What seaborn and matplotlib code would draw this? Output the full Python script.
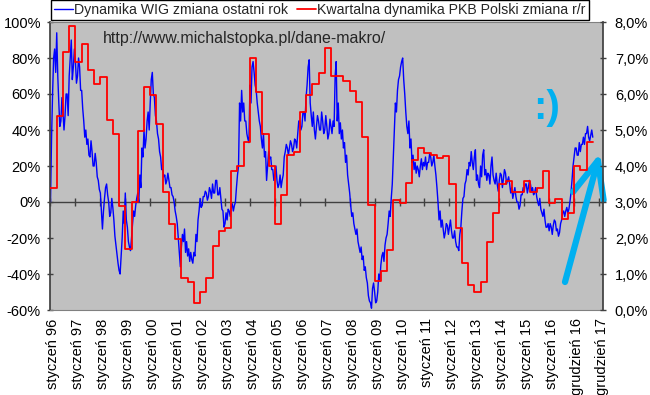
import numpy as np
import pandas as pd
import matplotlib
matplotlib.use("Agg")
import matplotlib.pyplot as plt
import matplotlib.transforms as mtransforms
import seaborn as sns
from matplotlib.ticker import FuncFormatter

sns.set_theme(style="white")
plt.rcParams['font.family'] = ['Liberation Sans', 'DejaVu Sans']

# WIG y/y change (%), twice a month, Jan 1996 - Oct 2017
wig_1996 = [0, 35, 60, 80, 85, 72, 94, 70, 55, 42, 45, 58, 50, 40, 48, 60, 60, 48, 70, 80, 90, 68, 75, 85]
wig_1997 = [78, 66, 70, 80, 75, 62, 62, 52, 45, 36, 40, 32, 35, 26, 25, 34, 28, 20, 20, 27, 22, 14, 12, 7]
wig_1998 = [5, -5, -15, -5, 2, 8, 10, 4, 0, -8, -6, 2, -3, -10, -19, -24, -29, -34, -38, -40, -30, -20, -5, -12]
wig_1999 = [5, -10, -14, -22, -25, -27, -20, -12, -5, -8, -2, 2, 5, 0, 15, 8, 30, 25, 40, 30, 35, 45, 50, 40]
wig_2000 = [55, 68, 72, 60, 58, 48, 45, 38, 35, 28, 25, 18, 18, 14, 15, 10, 12, 16, 12, 8, 8, 4, 3, 0]
wig_2001 = [-5, -8, -12, -20, -28, -36, -25, -18, -22, -15, -28, -22, -30, -26, -33, -28, -32, -34, -28, -30, -18, -22, -10, -5]
wig_2002 = [2, -3, -2, 3, 3, 6, 5, 1, 3, 8, 6, 2, 10, 5, 5, 12, 12, 4, 4, 8, 2, -4, -5, -14]
wig_2003 = [-12, -6, -10, -4, -5, -8, -3, -1, -5, -2, 0, 8, 15, 20, 55, 45, 62, 50, 55, 45, 45, 38, 35, 33]
wig_2004 = [65, 55, 75, 78, 72, 65, 62, 55, 50, 45, 42, 35, 30, 38, 25, 28, 12, 20, 28, 24, 25, 18, 18, 12]
wig_2005 = [15, 20, 12, 8, 10, 15, 8, 12, 15, 25, 28, 32, 30, 26, 30, 34, 32, 28, 30, 35, 34, 30, 38, 45]
wig_2006 = [45, 40, 42, 50, 50, 45, 58, 65, 75, 79, 55, 48, 42, 50, 40, 35, 42, 48, 45, 40, 40, 50, 45, 38]
wig_2007 = [40, 48, 42, 35, 38, 46, 42, 38, 45, 42, 70, 78, 45, 55, 38, 44, 35, 40, 30, 33, 22, 26, 15, 10]
wig_2008 = [5, -2, -8, -6, -12, -15, -18, -15, -22, -25, -28, -25, -32, -30, -38, -36, -42, -45, -52, -55, -56, -59, -48, -45]
wig_2009 = [-50, -56, -55, -50, -40, -44, -35, -30, -28, -33, -24, -20, -18, -12, -5, -8, 2, 10, 25, 40, 55, 50, 62, 68]
wig_2010 = [70, 75, 78, 80, 68, 60, 50, 42, 38, 45, 30, 35, 22, 26, 18, 22, 16, 20, 18, 14, 20, 24, 18, 22]
wig_2011 = [20, 25, 18, 22, 22, 27, 25, 20, 22, 26, 20, 15, 8, 0, -10, -5, -14, -10, -15, -20, -17, -12, -13, -18]
wig_2012 = [-14, -10, -16, -20, -20, -16, -22, -25, -25, -27, -18, -14, -5, 2, 3, 10, 12, 18, 15, 22, 20, 28, 22, 18]
wig_2013 = [25, 29, 12, 15, 10, 8, 20, 14, 26, 29, 15, 18, 12, 16, 15, 10, 20, 25, 15, 12, 10, 16, 10, 6]
wig_2014 = [12, 16, 15, 8, 13, 18, 16, 10, 12, 14, 10, 5, 8, 2, 5, 8, 3, 0, 0, -4, -2, 4, 4, 8]
wig_2015 = [6, 10, 10, 5, 8, 12, 10, 6, 8, 4, 5, 8, 3, 0, -2, 2, -4, -6, -8, -4, -10, -14, -14, -12]
wig_2016 = [-16, -12, -14, -18, -13, -10, -11, -16, -15, -19, -17, -12, -10, -6, -5, -8, -5, -3, -6, -4, 0, 5, 12, 20]
wig_2017 = [25, 30, 30, 26, 26, 33, 28, 32, 32, 36, 32, 38, 38, 42, 36, 34, 37, 40, 36]

wig = (wig_1996 + wig_1997 + wig_1998 + wig_1999 + wig_2000 + wig_2001 + wig_2002
       + wig_2003 + wig_2004 + wig_2005 + wig_2006 + wig_2007 + wig_2008 + wig_2009
       + wig_2010 + wig_2011 + wig_2012 + wig_2013 + wig_2014 + wig_2015 + wig_2016
       + wig_2017)

# Polish GDP y/y (%), quarterly, 1996Q1 - 2017Q3
gdp = [3.38, 5.39, 7.18, 7.89,
       6.88, 7.39, 6.67, 6.28,
       6.48, 5.28, 4.89, 2.89,
       1.70, 2.99, 4.98, 6.19,
       5.97, 5.17, 3.29, 2.39,
       1.97, 0.88, 0.79, 0.20,
       0.49, 0.88, 1.79, 2.20,
       2.29, 3.87, 4.00, 4.68,
       6.99, 6.06, 4.89, 4.00,
       2.39, 3.19, 4.30, 4.38,
       5.49, 5.98, 6.28, 6.59,
       7.29, 6.50, 6.50, 6.37,
       6.09, 5.79, 4.80, 2.92,
       0.81, 1.09, 1.68, 3.06,
       2.98, 3.52, 4.17, 4.49,
       4.37, 4.31, 4.21, 4.29,
       3.50, 2.29, 1.30, 0.69,
       0.51, 0.79, 1.90, 2.70,
       3.50, 3.58, 3.29, 3.29,
       3.59, 3.29, 3.38, 3.87,
       2.98, 3.07, 2.52, 2.70,
       4.00, 3.89, 4.68]

tick_labels = ['styczeń 96', 'styczeń 97', 'styczeń 98', 'styczeń 99', 'styczeń 00',
               'styczeń 01', 'styczeń 02', 'styczeń 03', 'styczeń 04', 'styczeń 05',
               'styczeń 06', 'styczeń 07', 'styczeń 08', 'styczeń 09', 'styczeń 10',
               'styczeń 11', 'styczeń 12', 'styczeń 13', 'styczeń 14', 'styczeń 15',
               'styczeń 16', 'grudzień 16', 'grudzień 17']

wig_df = pd.DataFrame({'t': 1996 + np.arange(len(wig)) / 24, 'v': np.array(wig) / 100})
gdp_df = pd.DataFrame({'t': 1996 + np.arange(len(gdp) + 1) / 4,
                       'v': np.array(gdp + [gdp[-1]]) / 100})
tick_pos = np.arange(1996, 1996 + len(tick_labels))

fig = plt.figure(figsize=(6.5, 3.95), dpi=100)
ax = fig.add_axes([50 / 650, 85 / 395, 553 / 650, 288 / 395])
ax.set_facecolor('#C0C0C0')
ax.axhline(0, color='#404040', lw=1, zorder=1.5)
sns.lineplot(data=wig_df, x='t', y='v', ax=ax, color='blue', lw=1.0,
             label='Dynamika WIG zmiana ostatni rok')

ax2 = ax.twinx()
sns.lineplot(data=gdp_df, x='t', y='v', ax=ax2, color='red', lw=1.3,
             drawstyle='steps-post', label='Kwartalna dynamika PKB Polski zmiana r/r')

ax.set_xlim(1995.98, 2018.16)
ax.set_ylim(-0.6, 1.0)
ax.set_yticks(np.linspace(-0.6, 1.0, 9))
ax.yaxis.set_major_formatter(FuncFormatter(lambda v, p: '%d%%' % round(v * 100)))
ax2.set_ylim(0, 0.08)
ax2.set_yticks(np.linspace(0, 0.08, 9))
ax2.yaxis.set_major_formatter(FuncFormatter(lambda v, p: ('%.1f%%' % (v * 100)).replace('.', ',')))

ax.set_xticks(tick_pos)
ax.set_xticklabels(tick_labels, rotation=90)
ax.tick_params(axis='x', length=0, pad=6, labelsize=10.5, colors='black')
ax.tick_params(axis='y', direction='inout', length=5, width=1, color='#404040',
               pad=4, labelsize=10.5, labelcolor='black', left=True)
ax2.tick_params(axis='y', direction='inout', length=5, width=1, color='#404040',
                pad=6, labelsize=10.5, labelcolor='black', right=True)
ax.set_xlabel('')
ax.set_ylabel('')
ax2.set_ylabel('')

# nudge the date labels a little to the right, as in the original
shift = mtransforms.ScaledTranslation(3 / 100, 0, fig.dpi_scale_trans)
for lab in ax.get_xticklabels():
    lab.set_transform(lab.get_transform() + shift)

# tick marks on the zero line
zero_axis = ax.secondary_xaxis(0.375)
zero_axis.set_xticks(tick_pos)
zero_axis.tick_params(direction='inout', length=6, width=1, color='#404040', labelbottom=False)
zero_axis.spines['bottom'].set_visible(False)

for s in ['top', 'bottom']:
    ax.spines[s].set_color('#808080')
    ax.spines[s].set_linewidth(0.8)
    ax2.spines[s].set_visible(False)
ax.spines['left'].set_color('#404040')
ax.spines['right'].set_visible(False)
ax2.spines['left'].set_visible(False)
ax2.spines['right'].set_color('#404040')

h1, l1 = ax.get_legend_handles_labels()
h2, l2 = ax2.get_legend_handles_labels()
ax.get_legend().remove()
ax2.get_legend().remove()
fig.legend(h1 + h2, l1 + l2, loc='upper left', bbox_to_anchor=(51 / 650, 1.0), ncol=2,
           frameon=True, fancybox=False, edgecolor='black', framealpha=1, fontsize=10.2,
           borderpad=0.2, borderaxespad=0, handlelength=1.35, handletextpad=0.1,
           columnspacing=0.6)

fig.text(103 / 650, (395 - 43) / 395, 'http://www.michalstopka.pl/dane-makro/',
         fontsize=11.5, va='baseline', ha='left')
fig.text(547 / 650, (395 - 108) / 395, ':)', fontsize=29, fontweight='bold',
         color='#00B0F0', ha='center', va='center')
ax.annotate('', xy=(600, 242), xytext=(565, 113), xycoords='figure pixels',
            textcoords='figure pixels',
            arrowprops=dict(arrowstyle='->,head_length=2.2,head_width=0.95', lw=4.5,
                            color='#00B0F0', shrinkA=0, shrinkB=0))

fig.savefig('out.png', dpi=100)
